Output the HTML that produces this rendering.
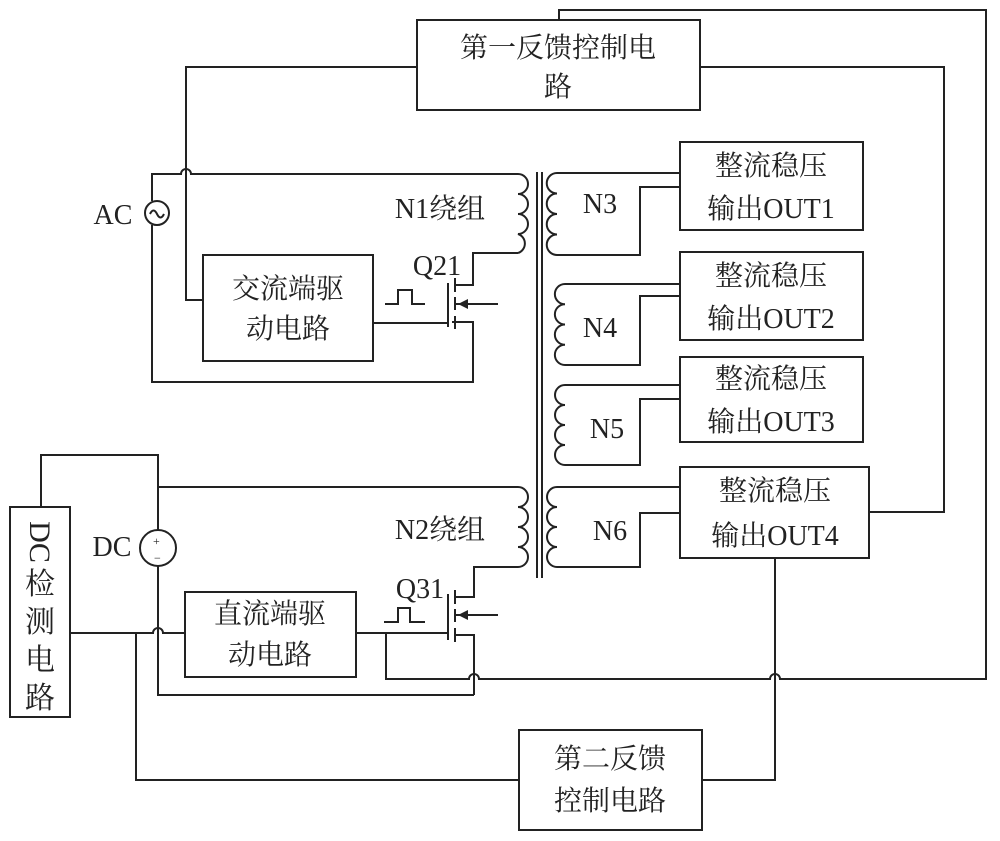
<!DOCTYPE html>
<html><head><meta charset="utf-8"><style>
html,body{margin:0;padding:0;background:#fff;}
svg{display:block}
text{font-family:"Liberation Serif","Noto Serif CJK SC",serif;fill:#222;}
</style></head><body>
<svg width="1000" height="841" viewBox="0 0 1000 841" xmlns="http://www.w3.org/2000/svg">
<g fill="none" stroke="#222" stroke-width="2">
<!-- top feedback box -->
<rect x="417" y="20" width="283" height="90"/>
<path d="M559,20 V10 H986 V679 H780 a5,5 0 0 0 -10,0 H479 a5,5 0 0 0 -10,0 H386 V633"/>
<path d="M700,67 H944 V512 H869"/>
<path d="M417,67 H186 V300 H203"/>
<!-- AC primary -->
<rect x="203" y="255" width="170" height="106"/>
<path d="M518,174 H191 a5,5 0 0 0 -10,0 H152 V201"/>
<path d="M152,225 V382 H473 V322 H452"/>
<circle cx="157" cy="213" r="12"/>
<path d="M150,214 q3.5,-7 7,0 q3.5,7 7,0"/>
<path d="M518,174 a10,10 0 0 1 0,20 a10,10 0 0 1 0,20 a10,10 0 0 1 0,20 a10,10 0 0 1 0,19"/>
<path d="M518,253 H473 V285 H455"/>
<path d="M455,278 V292 M455,297 V310 M455,316 V329 M448,283 V327"/>
<path d="M373,323 H448"/>
<path d="M455,304 H498"/>
<path d="M385,304 H398 V290 H412 V304 H425"/>
<!-- core -->
<path d="M537,172 V578 M542,172 V578"/>
<!-- secondaries -->
<path d="M680,173 H557 a10.25,10.25 0 0 0 0,20.5 a10.25,10.25 0 0 0 0,20.5 a10.25,10.25 0 0 0 0,20.5 a10.25,10.25 0 0 0 0,20.5 H640 V187 H680"/>
<path d="M680,284 H565 a10.1,10.1 0 0 0 0,20.25 a10.1,10.1 0 0 0 0,20.25 a10.1,10.1 0 0 0 0,20.25 a10.1,10.1 0 0 0 0,20.25 H640 V296 H680"/>
<path d="M680,385 H565 a10,10 0 0 0 0,20 a10,10 0 0 0 0,20 a10,10 0 0 0 0,20 a10,10 0 0 0 0,20 H640 V399 H680"/>
<path d="M680,487 H557 a10,10 0 0 0 0,20 a10,10 0 0 0 0,20 a10,10 0 0 0 0,20 a10,10 0 0 0 0,20 H640 V513 H680"/>
<rect x="680" y="142" width="183" height="88"/>
<rect x="680" y="252" width="183" height="88"/>
<rect x="680" y="357" width="183" height="85"/>
<rect x="680" y="467" width="189" height="91"/>
<path d="M775,558 V780 H702"/>
<rect x="519" y="730" width="183" height="100"/>
<path d="M519,780 H136 V633"/>
<!-- DC side -->
<rect x="10" y="507" width="60" height="210"/>
<path d="M41,507 V455 H158 V530"/>
<path d="M158,566 V695 H474"/>
<path d="M70,633 H153 a5,5 0 0 1 10,0 H185"/>
<circle cx="158" cy="548" r="18"/>
<path d="M158,487 H518 a10,10 0 0 1 0,20 a10,10 0 0 1 0,20 a10,10 0 0 1 0,20 a10,10 0 0 1 0,20 H474 V597 H455"/>
<rect x="185" y="592" width="171" height="85"/>
<path d="M356,633 H448"/>
<path d="M455,590 V604 M455,609 V622 M455,628 V642 M448,594 V640"/>
<path d="M455,635 H474 V695"/>
<path d="M455,615 H498"/>
<path d="M384,622 H398 V608 H410 V622 H425"/>
</g>
<!-- arrowheads -->
<path d="M458,304 L468,299 L468,309 Z" fill="#222"/>
<path d="M458,615 L468,610 L468,620 Z" fill="#222"/>
<!-- DC source signs -->
<text x="153" y="545" font-size="12">+</text>
<text x="154" y="562" font-size="12">−</text>
<g font-size="28">
<text x="558" y="57" text-anchor="middle">第一反馈控制电</text>
<text x="558" y="96" text-anchor="middle">路</text>
<text x="288" y="298" text-anchor="middle">交流端驱</text>
<text x="288" y="338" text-anchor="middle">动电路</text>
<text x="270" y="623" text-anchor="middle">直流端驱</text>
<text x="270" y="664" text-anchor="middle">动电路</text>
<text x="610" y="768" text-anchor="middle">第二反馈</text>
<text x="610" y="810" text-anchor="middle">控制电路</text>
<text x="771" y="175" text-anchor="middle">整流稳压</text>
<text x="771" y="218" text-anchor="middle">输出OUT1</text>
<text x="771" y="285" text-anchor="middle">整流稳压</text>
<text x="771" y="328" text-anchor="middle">输出OUT2</text>
<text x="771" y="388" text-anchor="middle">整流稳压</text>
<text x="771" y="431" text-anchor="middle">输出OUT3</text>
<text x="775" y="500" text-anchor="middle">整流稳压</text>
<text x="775" y="545" text-anchor="middle">输出OUT4</text>
<text x="440" y="218" text-anchor="middle">N1绕组</text>
<text x="440" y="539" text-anchor="middle">N2绕组</text>
<text x="437" y="275" text-anchor="middle">Q21</text>
<text x="420" y="598" text-anchor="middle">Q31</text>
<text x="600" y="213" text-anchor="middle">N3</text>
<text x="600" y="337" text-anchor="middle">N4</text>
<text x="607" y="438" text-anchor="middle">N5</text>
<text x="610" y="540" text-anchor="middle">N6</text>
<text x="113" y="224" text-anchor="middle">AC</text>
<text x="112" y="556" text-anchor="middle">DC</text>
</g>
<text transform="translate(30,542) rotate(90)" font-size="30" text-anchor="middle">DC</text>
<g font-size="30" text-anchor="middle">
<text x="40" y="594">检</text>
<text x="40" y="632">测</text>
<text x="40" y="670">电</text>
<text x="40" y="708">路</text>
</g>
</svg>
</body></html>
